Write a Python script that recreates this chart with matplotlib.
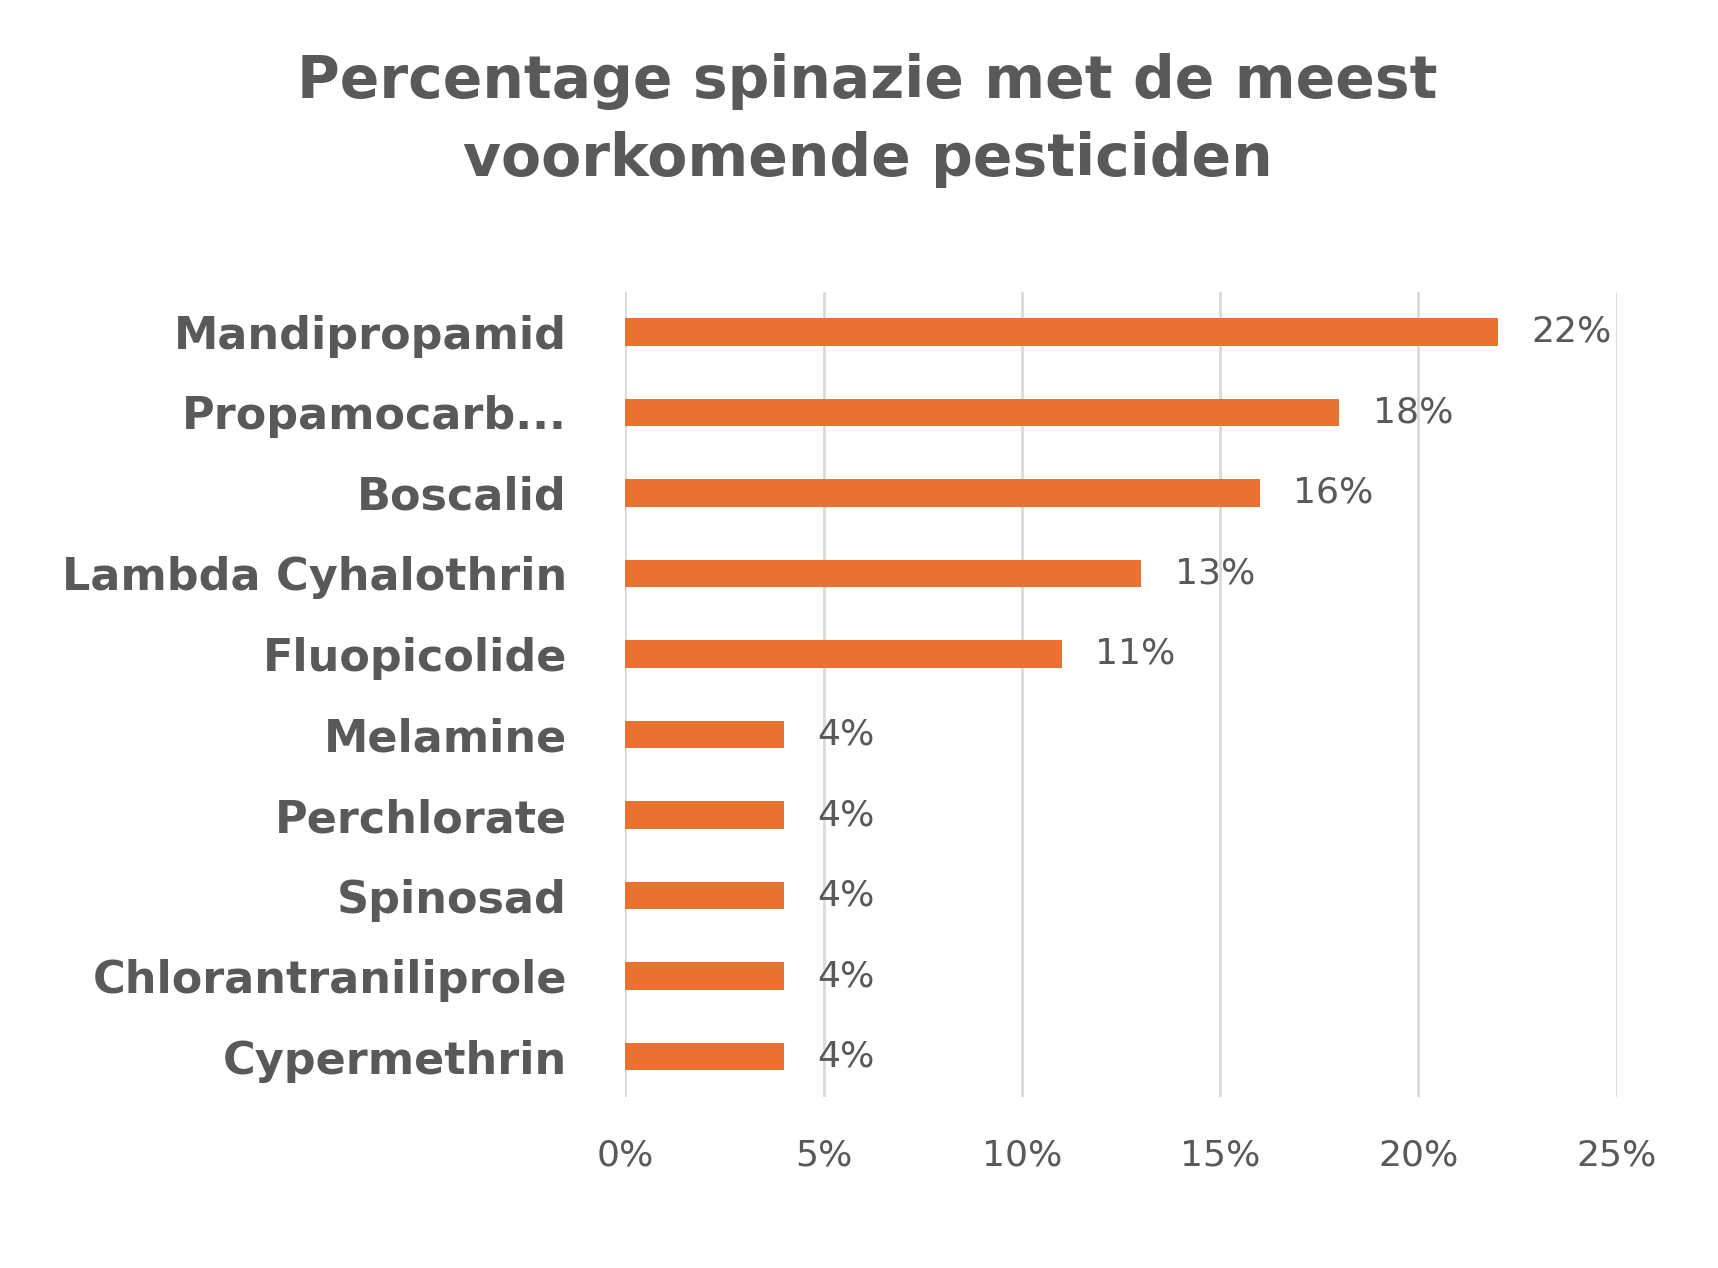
import matplotlib.pyplot as plt

categories = ["Mandipropamid", "Propamocarb...", "Boscalid", "Lambda Cyhalothrin",
              "Fluopicolide", "Melamine", "Perchlorate", "Spinosad",
              "Chlorantraniliprole", "Cypermethrin"]
values = [22, 18, 16, 13, 11, 4, 4, 4, 4, 4]
ticks = [0, 5, 10, 15, 20, 25]

grey = "#595959"
fig = plt.figure(figsize=(17.18, 12.68), dpi=100)
ax = fig.add_axes([0.364, 0.135, 0.577, 0.635])

y = list(range(len(categories)))[::-1]
ax.barh(y, values, height=0.34, color="#E97132")
for yi, v in zip(y, values):
    ax.text(v + 0.85, yi, f"{v}%", va="center", ha="left", fontsize=26, color=grey)

ax.set_xlim(0, 25)
ax.set_ylim(-0.5, len(categories) - 0.5)
ax.set_xticks(ticks)
ax.set_xticklabels([f"{t}%" for t in ticks], fontsize=26, color=grey)
ax.set_yticks(y)
ax.set_yticklabels(categories, fontsize=32, fontweight="bold", color=grey)
ax.tick_params(length=0)
ax.tick_params(axis="x", pad=30)
ax.tick_params(axis="y", pad=42)
ax.xaxis.grid(True, color="#D9D9D9", linewidth=2)
ax.set_axisbelow(True)
for s in ax.spines.values():
    s.set_visible(False)

fig.text(0.505, 0.905, "Percentage spinazie met de meest\nvoorkomende pesticiden",
         ha="center", va="center", fontsize=42, fontweight="bold", color=grey,
         linespacing=1.45)

fig.savefig("out.png", dpi=100)
